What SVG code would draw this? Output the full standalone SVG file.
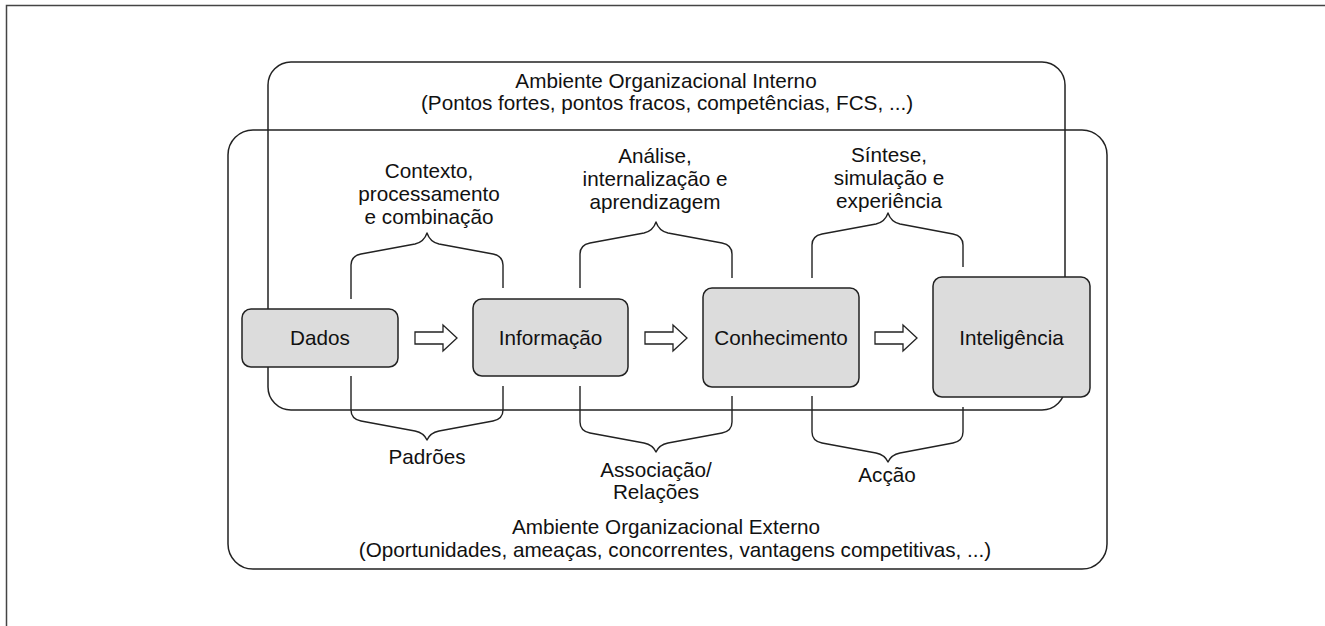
<svg xmlns="http://www.w3.org/2000/svg" width="1325" height="626" viewBox="0 0 1325 626">
<style>
  .frame{fill:none;stroke:#444;stroke-width:1.5}
  .env{fill:none;stroke:#222;stroke-width:1.5}
  .node{fill:#dcdcdc;stroke:#222;stroke-width:1.5}
  .brace{fill:none;stroke:#222;stroke-width:1.4;stroke-linejoin:round}
  .arrow{fill:#fff;stroke:#222;stroke-width:1.3}
  text{font-family:"Liberation Sans",Arial,sans-serif;font-size:20.7px;fill:#111;text-anchor:middle}
</style>
<defs>
  <path id="blockArrow" d="M0,-6 H28 V-13 L42,0 L28,13 V6 H0 Z"/>
</defs>

<path class="frame" d="M6.5,626 V5.5 H1325"/>

<g id="interno">
  <rect class="env" x="268" y="62" width="797" height="348" rx="23"/>
  <text x="666" y="88">Ambiente Organizacional Interno</text>
  <text x="667" y="110">(Pontos fortes, pontos fracos, competências, FCS, ...)</text>
</g>

<g id="externo">
  <rect class="env" x="228" y="130" width="879" height="439" rx="25"/>
  <text x="666" y="534">Ambiente Organizacional Externo</text>
  <text x="675" y="557">(Oportunidades, ameaças, concorrentes, vantagens competitivas, ...)</text>
</g>

<g id="connectors">
  <path class="brace" d="M351,299 V265 Q351,256 361,254 L415,244 Q424,242 427,233 Q430,242 439,244 L493,254 Q503,256 503,265 V288"/>
  <path class="brace" d="M580,288 V254 Q580,245 590,243 L644,233 Q653,231 656,222 Q659,231 668,233 L722,243 Q732,245 732,254 V278"/>
  <path class="brace" d="M812,278 V245 Q812,236 822,234 L876,224 Q885,222 888,213 Q891,222 900,224 L953,234 Q963,236 963,245 V267"/>
  <path class="brace" d="M351,376 V410 Q351,419 361,421 L415,431 Q424,433 427,440 Q430,433 439,431 L493,421 Q503,419 503,410 V386"/>
  <path class="brace" d="M580,386 V422 Q580,431 590,433 L644,443 Q653,445 656,452 Q659,445 668,443 L722,433 Q732,431 732,422 V396"/>
  <path class="brace" d="M812,396 V432 Q812,441 822,443 L876,453 Q885,455 888,462 Q891,455 900,453 L953,443 Q963,441 963,432 V407"/>
  <use href="#blockArrow" class="arrow" transform="translate(415,338)"/>
  <use href="#blockArrow" class="arrow" transform="translate(645,338)"/>
  <use href="#blockArrow" class="arrow" transform="translate(875,338)"/>
</g>

<g id="label-contexto">
  <text x="429" y="178">Contexto,</text>
  <text x="429" y="201">processamento</text>
  <text x="429" y="224">e combinação</text>
</g>
<g id="label-analise">
  <text x="655" y="163">Análise,</text>
  <text x="655" y="186">internalização e</text>
  <text x="655" y="209">aprendizagem</text>
</g>
<g id="label-sintese">
  <text x="889" y="162">Síntese,</text>
  <text x="889" y="185">simulação e</text>
  <text x="889" y="208">experiência</text>
</g>
<g id="label-padroes">
  <text x="427" y="464">Padrões</text>
</g>
<g id="label-associacao">
  <text x="656" y="477">Associação/</text>
  <text x="656" y="499">Relações</text>
</g>
<g id="label-accao">
  <text x="887" y="482">Acção</text>
</g>

<g id="node-dados">
  <rect class="node" x="242" y="309" width="156" height="58" rx="9"/>
  <text x="320" y="345">Dados</text>
</g>
<g id="node-informacao">
  <rect class="node" x="473" y="299" width="155" height="77" rx="9"/>
  <text x="550.5" y="345">Informação</text>
</g>
<g id="node-conhecimento">
  <rect class="node" x="703" y="288" width="156" height="99" rx="9"/>
  <text x="781" y="345">Conhecimento</text>
</g>
<g id="node-inteligencia">
  <rect class="node" x="933" y="277" width="157" height="120" rx="9"/>
  <text x="1011.5" y="345">Inteligência</text>
</g>
</svg>
